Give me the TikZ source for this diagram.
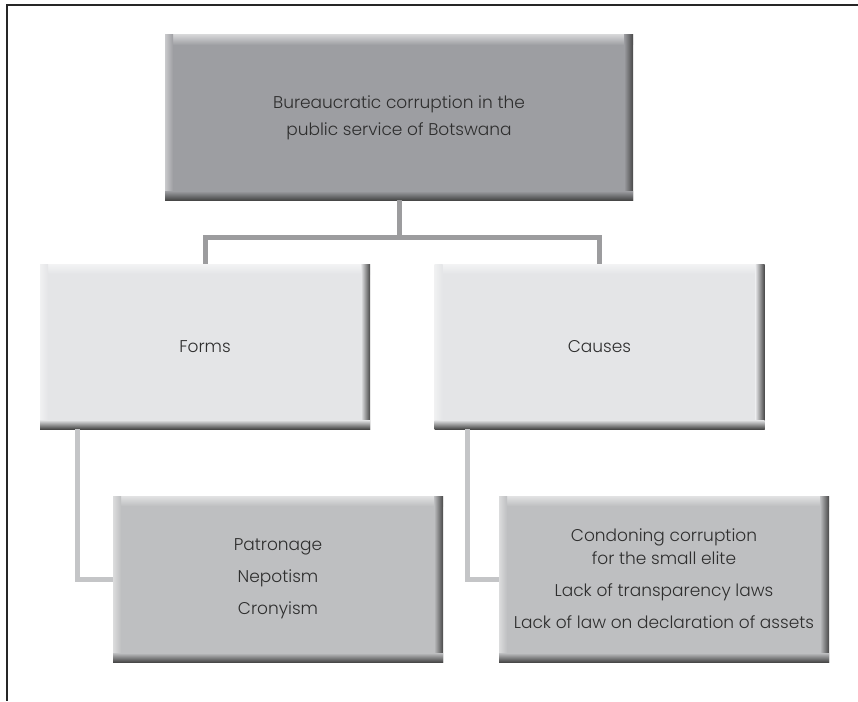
\documentclass[tikz,border=0pt]{standalone}
\usepackage{fontspec}
\setmainfont{Poppins Light}
\definecolor{txt}{HTML}{2E2E2E}
\definecolor{dkbox}{HTML}{9D9EA2}
\definecolor{ltbox}{HTML}{E4E5E7}
\definecolor{mdbox}{HTML}{BEBFC1}
\definecolor{connA}{HTML}{9C9C9E}
\definecolor{connB}{HTML}{C4C5C7}
\newcommand{\boxfont}{\fontsize{17}{23}\selectfont}
\tikzset{
  gbox/.style={rectangle, inner sep=0pt, fill=#1, align=center, font=\boxfont, text=txt,
    minimum width=330pt, minimum height=165pt,
    path picture={
      \coordinate (pSW) at (path picture bounding box.south west);
      \coordinate (pNE) at (path picture bounding box.north east);
      \shade[top color=white!55!#1, bottom color=#1] (pSW|-pNE) rectangle ([yshift=-10pt]pNE);
      \shade[left color=white!45!#1, right color=#1] (pSW) rectangle ([xshift=8pt]pSW|-pNE);
      \shade[left color=#1, right color=black!72] ([xshift=-9pt]pNE|-pSW) rectangle (pNE);
      \shade[top color=#1, bottom color=black!72] (pSW) rectangle ([yshift=9pt]pSW-|pNE);
    }},
  connA/.style={draw=connA, line width=5pt},
  connB/.style={draw=connB, line width=5pt},
  frameline/.style={draw=black!85, line width=1.6pt}
}
\begin{document}
\begin{tikzpicture}[x=1pt, y=-1pt]
\useasboundingbox (0,0) rectangle (858,701);
\coordinate (fTop) at (858,5);
\coordinate (fCorner) at (7,5);
\coordinate (fBot) at (7,701);
\draw[frameline] (fTop) -- (fCorner) -- (fBot);

\node[gbox=dkbox, minimum width=468pt, font=\fontsize{17}{27}\selectfont] (top) at (399,117.5)
  {Bureaucratic corruption in the\\public service of Botswana};
\node[gbox=ltbox] (forms) at (205,346.5) {Forms};
\node[gbox=ltbox] (causes) at (599.5,346.5) {Causes};
\node[gbox=mdbox, minimum height=166pt] (fsub) at (278,579)
  {Patronage\\[9pt]Nepotism\\[9pt]Cronyism};
\node[gbox=mdbox, minimum height=166pt] (csub) at (664,579)
  {Condoning corruption\\for the small elite\\[9pt]Lack of transparency laws\\[9pt]Lack of law on declaration of assets};

\draw[connA] (top.south) -- ++(0,37) -| (forms.north);
\draw[connA] (top.south) -- ++(0,37) -| (causes.north);
\draw[connB] ([xshift=38pt]forms.south west) |- (fsub.west);
\draw[connB] ([xshift=33pt]causes.south west) |- (csub.west);
\end{tikzpicture}
\end{document}
